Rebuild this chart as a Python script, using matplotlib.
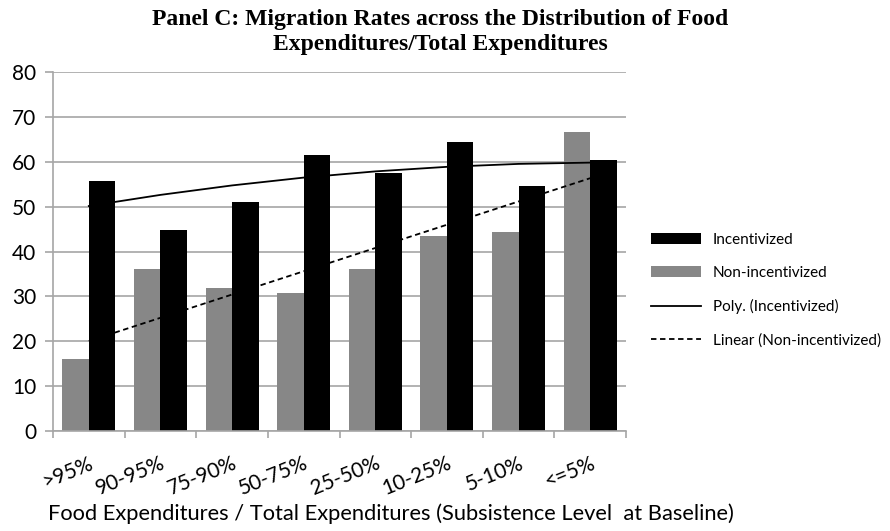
import numpy as np
import matplotlib.pyplot as plt
from matplotlib.patches import Patch
from matplotlib.lines import Line2D

categories = [">95%", "90-95%", "75-90%", "50-75%", "25-50%", "10-25%", "5-10%", "<=5%"]
incentivized = [55.7, 44.9, 51.1, 61.6, 57.5, 64.4, 54.5, 60.3]
non_incentivized = [16.0, 36.2, 31.9, 30.8, 36.1, 43.5, 44.3, 66.7]

GREY = "#878787"
AXIS_GREY = "#A6A6A6"
SANS = ["Lato", "DejaVu Sans"]

fig = plt.figure(figsize=(8.9, 5.31), dpi=100)
ax = fig.add_axes([53 / 890, 100 / 531, 573 / 890, 359 / 531])

x = np.arange(len(categories))
bw = 0.37
ax.bar(x - bw / 2, non_incentivized, width=bw, color=GREY, zorder=2)
ax.bar(x + bw / 2, incentivized, width=bw, color="black", zorder=2)

# trend lines as Excel would draw them (fit on category index 1..n)
xi = x + 1
poly = np.polyfit(xi, incentivized, 2)
lin = np.polyfit(xi, non_incentivized, 1)
ax.plot(x, np.polyval(poly, xi), color="black", lw=1.3, zorder=3)
ax.plot(x, np.polyval(lin, xi), color="black", lw=1.3, ls=(0, (3, 2)), zorder=3)

ax.set_xlim(-0.5, len(categories) - 0.5)
ax.set_ylim(0, 80)
ax.set_yticks(range(0, 81, 10))
ax.yaxis.grid(True, color=AXIS_GREY, lw=1.2, zorder=0)
ax.set_axisbelow(True)

for side in ["top", "right"]:
    ax.spines[side].set_visible(False)
for side in ["left", "bottom"]:
    ax.spines[side].set_color(AXIS_GREY)
    ax.spines[side].set_linewidth(1.2)

ax.set_xticks(np.arange(len(categories) + 1) - 0.5, minor=False)
ax.set_xticklabels([])
ax.set_xticks(x, minor=True)
ax.set_xticklabels(categories, minor=True, rotation=22, ha="right", va="top",
                   rotation_mode="anchor", family=SANS, fontsize=15)
ax.tick_params(axis="x", which="major", length=5, color=AXIS_GREY, width=1.2)
ax.tick_params(axis="x", which="minor", length=0, pad=16)
ax.tick_params(axis="y", length=6, color=AXIS_GREY, width=1.2, labelsize=15, pad=6)
for lab in ax.get_yticklabels():
    lab.set_family(SANS)

fig.text(391 / 890, 1 - 514 / 531,
         "Food Expenditures / Total Expenditures (Subsistence Level  at Baseline)",
         ha="center", va="center", family=SANS, fontsize=15.75)

fig.text(440 / 890, 1 - 32 / 531,
         "Panel C: Migration Rates across the Distribution of Food\nExpenditures/Total Expenditures",
         ha="center", va="center", family="Liberation Serif", fontweight="bold",
         fontsize=17, linespacing=1.25)

handles = [
    Patch(facecolor="black", label="Incentivized"),
    Patch(facecolor=GREY, label="Non-incentivized"),
    Line2D([0], [0], color="black", lw=1.3, label="Poly. (Incentivized)"),
    Line2D([0], [0], color="black", lw=1.3, ls=(0, (3, 2)), label="Linear (Non-incentivized)"),
]
fig.legend(handles=handles, loc="upper left", bbox_to_anchor=(637 / 890, 1 - 219 / 531),
           frameon=False, prop={"family": SANS, "size": 11}, handlelength=3.27,
           handleheight=0.7, labelspacing=1.25, handletextpad=0.8)

fig.savefig("out.png", dpi=100)
